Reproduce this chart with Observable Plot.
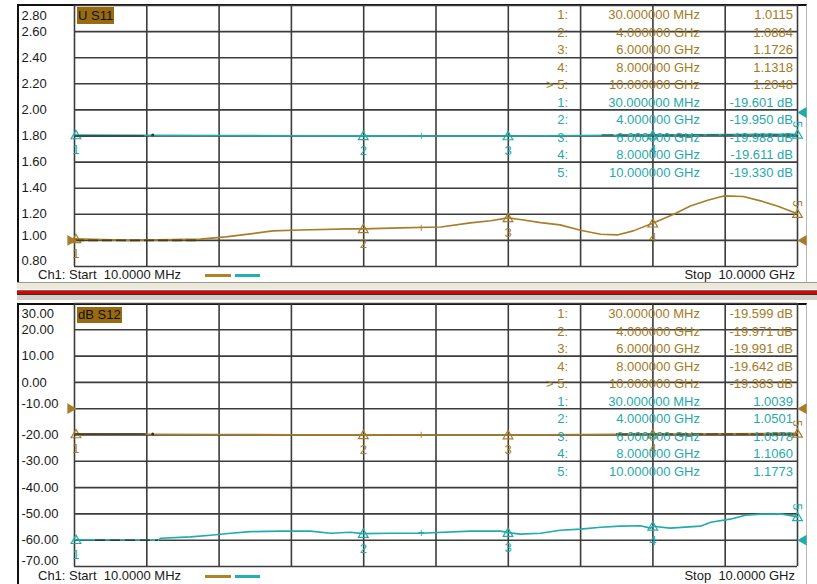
<!DOCTYPE html>
<html><head><meta charset="utf-8">
<script src="https://cdn.jsdelivr.net/npm/d3@7"></script>
<script src="https://cdn.jsdelivr.net/npm/@observablehq/plot@0.6"></script>
<style>
body{margin:0;background:#fff;}
#page{position:relative;width:817px;height:584px;overflow:hidden;font-family:"Liberation Sans",Arial,sans-serif;font-size:13px;color:#1a1a1a;}
.abs{position:absolute;}
.t{position:absolute;white-space:pre;line-height:16px;height:16px;font-size:13px;}
</style></head><body><div id="page"></div>
<script>
// ---------- data ----------
// Top panel: U S11 (SWR, brown) and dB trace (cyan, reference at 1.80 division)
const freqS11 = [0.01, 0.78, 1.75, 2.10, 2.44, 2.75, 3.13, 3.80, 4.00, 4.51, 5.07, 5.48, 5.76, 6.00, 6.17, 6.45, 6.72, 7.00, 7.28, 7.51, 7.73, 8.00, 8.29, 8.52, 8.76, 8.98, 9.25, 9.49, 9.72, 10.0];
const swrS11  = [1.0115, 1.00, 1.01, 1.027, 1.05, 1.073, 1.08, 1.088, 1.0884, 1.096, 1.103, 1.134, 1.15, 1.1726, 1.16, 1.136, 1.119, 1.078, 1.047, 1.042, 1.073, 1.1318, 1.20, 1.264, 1.308, 1.341, 1.336, 1.303, 1.264, 1.2048];
const freqS21 = [0.01, 1.0, 2.0, 3.0, 4.0, 5.0, 6.0, 7.0, 8.0, 9.0, 10.0];
const dbS21   = [-19.601, -19.70, -19.80, -19.90, -19.950, -19.98, -19.988, -19.80, -19.611, -19.45, -19.330];
// Bottom panel: dB S12 (brown) and SWR trace (cyan, 1.00 at -60 division)
const freqS12 = [0.01, 1.0, 2.0, 3.0, 4.0, 5.0, 6.0, 7.0, 8.0, 9.0, 10.0];
const dbS12   = [-19.599, -19.70, -19.80, -19.90, -19.971, -19.99, -19.991, -19.80, -19.642, -19.50, -19.383];
const freqS22 = [0.01, 1.17, 1.20, 1.61, 1.89, 2.17, 2.44, 2.86, 3.27, 3.55, 3.82, 4.00, 4.38, 4.79, 5.48, 5.90, 6.00, 6.17, 6.45, 6.72, 7.00, 7.28, 7.55, 7.83, 7.97, 8.00, 8.24, 8.66, 8.80, 9.07, 9.28, 9.49, 9.77, 10.0];
const swrS22  = [1.0039, 1.00, 1.015, 1.025, 1.038, 1.053, 1.065, 1.069, 1.069, 1.053, 1.061, 1.0501, 1.053, 1.053, 1.069, 1.069, 1.0578, 1.046, 1.053, 1.076, 1.084, 1.099, 1.107, 1.11, 1.092, 1.1060, 1.092, 1.107, 1.137, 1.16, 1.19, 1.198, 1.20, 1.1773];

// markers
const markerFreq = [0.03, 4, 6, 8, 10];
const markerFreqText = ["30.000000 MHz", "4.000000 GHz", "6.000000 GHz", "8.000000 GHz", "10.000000 GHz"];
const markerNames = ["1:", "2:", "3:", "4:", "5:"];
const mS11 = [1.0115, 1.0884, 1.1726, 1.1318, 1.2048];
const mS21 = [-19.601, -19.950, -19.988, -19.611, -19.330];
const mS12 = [-19.599, -19.971, -19.991, -19.642, -19.383];
const mS22 = [1.0039, 1.0501, 1.0578, 1.1060, 1.1773];
const refMarkFreq = 4.8;
const refMarkS11 = 1.096, refMarkS21 = -19.98, refMarkS12 = -19.98, refMarkS22 = 1.053;

// axis tick labels
const yTicksTop = [2.80, 2.60, 2.40, 2.20, 2.00, 1.80, 1.60, 1.40, 1.20, 1.00, 0.80];
const yTicksBot = [30, 20, 10, 0, -10, -20, -30, -40, -50, -60, -70];
const xDivs = [0.01, 1.009, 2.008, 3.007, 4.006, 5.005, 6.004, 7.003, 8.002, 9.001, 10.0];
const startText = "Ch1: Start  10.0000 MHz";
const stopText = "Stop  10.0000 GHz";

// ---------- styles ----------
const BROWN = "#a97d27", CYAN = "#22abab", GRID = "#3c3c3c";
const BROWN_T = "#a47a24", CYAN_T = "#1faaaa";
const dispS21 = v => 1.8 + (v + 20) * 0.02;     // dB trace shown on top SWR grid
const dispS22 = v => -60 + (v - 1) * 50;         // SWR trace shown on bottom dB grid

const page = document.getElementById("page");
function div(style, text) {
  const d = document.createElement("div");
  d.className = "abs";
  Object.assign(d.style, style);
  if (text != null) { d.textContent = text; d.style.whiteSpace = "pre"; }
  page.appendChild(d);
  return d;
}

// frames / separator
div({left:"17px", top:"4px", width:"787px", height:"278px", borderLeft:"2px solid #111", borderTop:"2px solid #111", borderRight:"1px solid #b8b8b8"});
div({left:"17px", top:"282px", width:"800px", height:"1px", background:"#9a9a9a"});
div({left:"17px", top:"283px", width:"800px", height:"6px", background:"#ece9d8"});
div({left:"17px", top:"290px", width:"800px", height:"1px", background:"#7a6a6a"});
div({left:"17px", top:"291px", width:"800px", height:"3px", background:"#e00000"});
div({left:"17px", top:"294px", width:"800px", height:"1px", background:"#303030"});
div({left:"17px", top:"295px", width:"800px", height:"5px", background:"#d4d0c8"});
div({left:"17px", top:"303px", width:"787px", height:"281px", borderLeft:"2px solid #111", borderTop:"2px solid #111", borderRight:"1px solid #b8b8b8"});

const tbl = (arr) => arr.map((v, i) => ({f: markerFreq[i], v, n: String(i + 1)}));

function panel(top, height, mt, mb, yDomain, yTicks, refTick, marks) {
  const p = Plot.plot({
    width: 817, height, marginLeft: 74, marginRight: 20, marginTop: mt, marginBottom: mb,
    x: {domain: [0.01, 10], axis: null},
    y: {domain: yDomain, axis: null},
    style: {background: "transparent", fontFamily: "Liberation Sans, Arial, sans-serif", fontSize: "13px", overflow: "visible", color: "#1a1a1a"},
    marks: [
      Plot.ruleX(xDivs, {x: d => d, stroke: GRID, strokeWidth: 1.6}),
      Plot.ruleY(yTicks, {y: d => d, stroke: GRID, strokeWidth: 1.6}),
      Plot.text(yTicks.slice(1, -1).filter(d => d !== refTick), {y: d => d, text: d => d.toFixed(2), frameAnchor: "left", dx: -53, textAnchor: "start", fill: "#1a1a1a"}),
      Plot.text([yTicks[0]], {y: d => d, text: d => d.toFixed(2), frameAnchor: "left", dx: -53, dy: 10, textAnchor: "start", fill: "#1a1a1a"}),
      Plot.text([yTicks[yTicks.length - 1]], {y: d => d, text: d => d.toFixed(2), frameAnchor: "left", dx: -53, dy: -6, textAnchor: "start", fill: "#1a1a1a"}),
      Plot.text([refTick], {y: d => d, text: d => d.toFixed(2), frameAnchor: "left", dx: -53, dy: -5, textAnchor: "start", fill: "#1a1a1a"}),
      ...marks
    ]
  });
  const holder = div({left: "0px", top: top + "px"});
  holder.appendChild(p);
}

function traceMarks(data, yf, color, markers, refF, refV) {
  return [
    Plot.line(data, {x: "f", y: d => yf(d.v), stroke: color, strokeWidth: 1.6}),
    Plot.dot(markers, {x: "f", y: d => yf(d.v), symbol: "triangle", r: 3.6, stroke: color, fill: "none", strokeWidth: 1.2, dy: 1}),
    Plot.text(markers.slice(0, 4), {x: "f", y: d => yf(d.v), text: "n", dy: 15, fill: color, fontSize: 13}),
    Plot.text(markers.slice(4), {x: "f", y: d => yf(d.v), text: "n", dy: -10, dx: -1, rotate: 90, fill: color, fontSize: 12}),
    Plot.text([refV], {x: () => refF, y: d => yf(d), text: () => "+", fill: color, fontSize: 12})
  ];
}

// ---------- top panel ----------
const s11 = freqS11.map((f, i) => ({f, v: swrS11[i]}));
const s21 = freqS21.map((f, i) => ({f, v: dbS21[i]}));
const id = v => v;
panel(0, 283, 5, 17, [0.8, 2.8], yTicksTop, 1.0, [
  ...traceMarks(s21, dispS21, CYAN, tbl(mS21), refMarkFreq, refMarkS21),
  Plot.ruleY([s21[0].v], {y: dispS21, x1: 0.02, x2: 0.98, stroke: "#2f3a3a", strokeWidth: 1.6, dy: 1}),
  Plot.dot([s21[0].v], {x: () => 1.09, y: dispS21, r: 1.5, fill: "#2f3a3a"}),
  Plot.ruleY([mS21[3]], {y: dispS21, x1: 7.3, x2: 10, stroke: "#2a6a6a", strokeWidth: 1.6, strokeDasharray: "12,3"}),
  ...traceMarks(s11, id, BROWN, tbl(mS11), refMarkFreq, refMarkS11),
  Plot.ruleY([1.0], {y: d => d, x1: 0.01, x2: 1.75, stroke: "#4a3a18", strokeWidth: 1.8, strokeDasharray: "10,4"}),
  Plot.dot([1.0], {x: () => 0.01, y: d => d, symbol: "triangle", rotate: 90, r: 4, fill: BROWN, dx: -4}),
  Plot.dot([1.0], {x: () => 10, y: d => d, symbol: "triangle", rotate: -90, r: 4, fill: BROWN, dx: 6}),
  Plot.dot([1.98], {x: () => 10, y: d => d, symbol: "triangle", rotate: -90, r: 4, fill: CYAN, dx: 6})
]);

// ---------- bottom panel ----------
const s12 = freqS12.map((f, i) => ({f, v: dbS12[i]}));
const s22 = freqS22.map((f, i) => ({f, v: swrS22[i]}));
panel(298, 286, 5, 18, [-70, 30], yTicksBot, -10, [
  ...traceMarks(s12, id, BROWN, tbl(mS12), refMarkFreq, refMarkS12),
  Plot.ruleY([s12[0].v], {y: d => d, x1: 0.02, x2: 1.0, stroke: "#3a3018", strokeWidth: 1.6}),
  Plot.dot([s12[0].v], {x: () => 1.09, y: d => d, r: 1.5, fill: "#3a3018"}),
  Plot.ruleY([mS12[3]], {y: d => d, x1: 7.5, x2: 10, stroke: "#6a4c12", strokeWidth: 1.8, strokeDasharray: "12,3"}),
  ...traceMarks(s22, dispS22, CYAN, tbl(mS22), refMarkFreq, refMarkS22),
  Plot.ruleY([1.0], {y: dispS22, x1: 0.3, x2: 1.17, stroke: "#24403f", strokeWidth: 1.6, strokeDasharray: "10,5"}),
  Plot.dot([-10], {x: () => 0.01, y: d => d, symbol: "triangle", rotate: 90, r: 4, fill: BROWN, dx: -4}),
  Plot.dot([-10], {x: () => 10, y: d => d, symbol: "triangle", rotate: -90, r: 4, fill: BROWN, dx: 6}),
  Plot.dot([-60], {x: () => 10, y: d => d, symbol: "triangle", rotate: -90, r: 4, fill: CYAN, dx: 6})
]);

// ---------- marker tables (text) ----------
function table(y0, rows) {
  rows.forEach((r, i) => {
    const top = (y0 + i * 17.5 - 8) + "px";
    const c = r.color;
    const t1 = div({right: (817 - 568) + "px", top, color: c}, r.name);
    t1.className = "t";
    const t2 = div({right: (817 - 700) + "px", top, color: c}, r.freq);
    t2.className = "t";
    const t3 = div({right: (817 - 793) + "px", top, color: c}, r.val);
    t3.className = "t";
  });
}
const mkRows = (vals, fmt, color, active) => vals.map((v, i) => ({
  name: (active && i === 4 ? ">\u00a0" : "") + markerNames[i], freq: markerFreqText[i], val: fmt(v), color
}));
const fSWR = v => v.toFixed(4);
const fDB = v => v.toFixed(3) + " dB";
table(15, [...mkRows(mS11, fSWR, BROWN_T, true), ...mkRows(mS21, fDB, CYAN_T, false)]);
table(314, [...mkRows(mS12, fDB, BROWN_T, true), ...mkRows(mS22, fSWR, CYAN_T, false)]);

// ---------- labels, footers ----------
div({left:"77px", top:"7px", height:"17px", lineHeight:"17px", padding:"0 1px", background:"#9a6a10", color:"#111"}, "U S11");
div({left:"77px", top:"307px", height:"16px", lineHeight:"16px", padding:"0 1px", background:"#9a6a10", color:"#111"}, "dB S12");
[267, 568].forEach(y => {
  div({left:"38px", top: y + "px", lineHeight:"16px", color:"#1a1a1a"}, startText);
  div({right:"22px", top: y + "px", lineHeight:"16px", color:"#1a1a1a"}, stopText);
  div({left:"205px", top:(y + 7) + "px", width:"26px", height:"3px", background:"#b08226"});
  div({left:"235px", top:(y + 7) + "px", width:"25px", height:"3px", background:"#22b0b0"});
});
</script></body></html>
